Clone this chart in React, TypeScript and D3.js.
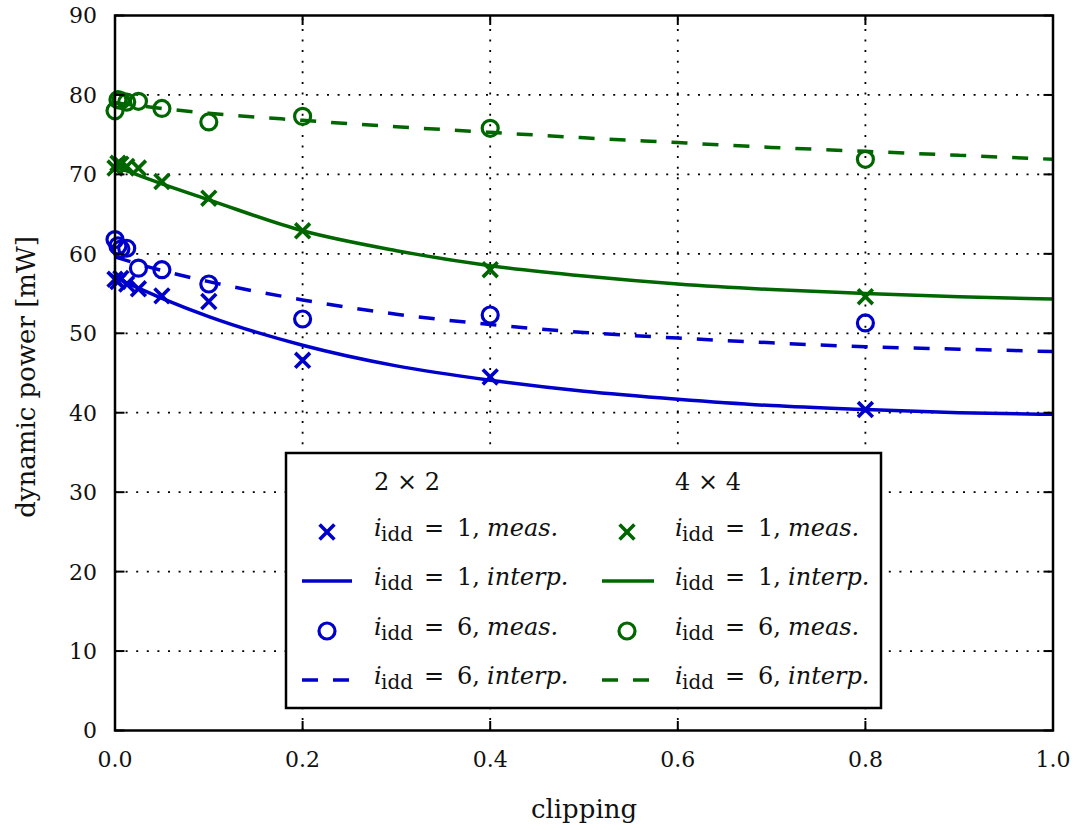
import React from "react";
import * as d3 from "d3";

// Clipping levels at which the power was measured
const clipping = [0, 0.003125, 0.00625, 0.0125, 0.025, 0.05, 0.1, 0.2, 0.4, 0.8];
// Measured dynamic power [mW]
const meas2x2idd1 = [56.8, 56.5, 56.9, 56.2, 55.6, 54.7, 54.0, 46.6, 44.5, 40.4];
const meas2x2idd6 = [61.8, 61.0, 60.6, 60.7, 58.2, 58.0, 56.2, 51.8, 52.3, 51.3];
const meas4x4idd1 = [70.8, 71.4, 71.3, 71.0, 70.8, 69.1, 67.0, 62.9, 58.0, 54.6];
const meas4x4idd6 = [78.0, 79.4, 79.3, 79.1, 79.2, 78.3, 76.6, 77.3, 75.8, 71.9];

// Interpolated curves
const interpClipping = [0, 0.05, 0.1, 0.2, 0.3, 0.4, 0.5, 0.6, 0.7, 0.8, 0.9, 1.0];
const interp2x2idd1 = [57.0, 54.4, 52.1, 48.5, 45.9, 44.1, 42.7, 41.7, 40.9, 40.4, 40.0, 39.8];
const interp2x2idd6 = [59.6, 57.9, 56.5, 54.2, 52.4, 51.1, 50.1, 49.4, 48.8, 48.3, 48.0, 47.7];
const interp4x4idd1 = [71.0, 68.8, 66.8, 62.9, 60.4, 58.5, 57.2, 56.2, 55.5, 55.0, 54.6, 54.3];
const interp4x4idd6 = [79.0, 78.3, 77.7, 76.8, 76.0, 75.3, 74.6, 74.0, 73.4, 72.9, 72.4, 71.9];

const xTicks = [0, 0.2, 0.4, 0.6, 0.8, 1.0];
const xTickLabels = ["0.0", "0.2", "0.4", "0.6", "0.8", "1.0"];
const yTicks = [0, 10, 20, 30, 40, 50, 60, 70, 80, 90];

const groupHeaders = ["2 × 2", "4 × 4"];

const BLUE = "#0000cc";
const GREEN = "#006600";
const FONT = "'DejaVu Serif', serif";

const W = 1074;
const H = 830;
const M = { left: 115, right: 1053, top: 15.5, bottom: 730.5 };

const x = d3.scaleLinear().domain([0, 1]).range([M.left, M.right]);
const y = d3.scaleLinear().domain([0, 90]).range([M.bottom, M.top]);

const line = d3
  .line<[number, number]>()
  .x((d) => x(d[0]))
  .y((d) => y(d[1]))
  .curve(d3.curveMonotoneX);

const zip = (xs: number[], ys: number[]) => xs.map((v, i) => [v, ys[i]] as [number, number]);

type Series = {
  color: string;
  marker: "x" | "o";
  meas: number[];
  interp: number[];
  dashed: boolean;
  idd: string;
};

const series2x2: Series[] = [
  { color: BLUE, marker: "x", meas: meas2x2idd1, interp: interp2x2idd1, dashed: false, idd: "1" },
  { color: BLUE, marker: "o", meas: meas2x2idd6, interp: interp2x2idd6, dashed: true, idd: "6" },
];
const series4x4: Series[] = [
  { color: GREEN, marker: "x", meas: meas4x4idd1, interp: interp4x4idd1, dashed: false, idd: "1" },
  { color: GREEN, marker: "o", meas: meas4x4idd6, interp: interp4x4idd6, dashed: true, idd: "6" },
];
const allSeries = [...series2x2, ...series4x4];

const DASH = "16 15";
const LW = 3.5;
const CROSS = 7.4;
const RADIUS = 8;

function Marker({ kind, cx, cy, color }: { kind: "x" | "o"; cx: number; cy: number; color: string }) {
  if (kind === "o") {
    return <circle cx={cx} cy={cy} r={RADIUS} fill="none" stroke={color} strokeWidth={3.2} />;
  }
  const s = CROSS;
  return (
    <path
      d={`M${cx - s},${cy - s}L${cx + s},${cy + s}M${cx - s},${cy + s}L${cx + s},${cy - s}`}
      stroke={color}
      strokeWidth={3.6}
      fill="none"
    />
  );
}

function LegendLabel({ tx, ty, idd, kind }: { tx: number; ty: number; idd: string; kind: string }) {
  return (
    <text y={ty} fontFamily={FONT} fontSize={24} fill="#111">
      <tspan x={tx} fontStyle="italic">i</tspan>
      <tspan x={tx + 7} dy={5} fontSize={20}>idd</tspan>
      <tspan x={tx + 50} dy={-5}>=</tspan>
      <tspan x={tx + 83}>{idd},</tspan>
      <tspan x={tx + 113} fontStyle="italic">{kind}</tspan>
    </text>
  );
}

export default function App() {
  const legend = { x0: 286, y0: 453, x1: 881, y1: 708 };
  const cols = [
    { group: series2x2, header: groupHeaders[0], mx: 327, lx0: 302, lx1: 352, tx: 374 },
    { group: series4x4, header: groupHeaders[1], mx: 627, lx0: 602, lx1: 654, tx: 675 },
  ];
  const rowY = [532, 581, 631, 680];

  return (
    <svg
      width={W}
      height={H}
      style={{ position: "absolute", left: 0, top: 0, background: "#fff" }}
      xmlns="http://www.w3.org/2000/svg"
    >
      <defs>
        <clipPath id="plot-area">
          <rect x={M.left} y={M.top} width={M.right - M.left} height={M.bottom - M.top} />
        </clipPath>
      </defs>

      {/* grid */}
      <g stroke="#000" strokeWidth={1.8} strokeDasharray="2 8.6">
        {xTicks.slice(1, -1).map((t) => (
          <line key={`gx${t}`} x1={x(t)} x2={x(t)} y1={M.bottom} y2={M.top} />
        ))}
        {yTicks.slice(1, -1).map((t) => (
          <line key={`gy${t}`} x1={M.left} x2={M.right} y1={y(t)} y2={y(t)} />
        ))}
      </g>

      {/* interpolated curves */}
      <g clipPath="url(#plot-area)" fill="none">
        {allSeries.map((s, i) => (
          <path
            key={`l${i}`}
            d={line(zip(interpClipping, s.interp)) || ""}
            stroke={s.color}
            strokeWidth={LW}
            strokeDasharray={s.dashed ? DASH : undefined}
          />
        ))}
      </g>

      {/* measurements */}
      <g>
        {allSeries.map((s, i) =>
          zip(clipping, s.meas).map((d, j) => (
            <Marker key={`m${i}-${j}`} kind={s.marker} cx={x(d[0])} cy={y(d[1])} color={s.color} />
          ))
        )}
      </g>

      {/* frame and inward ticks */}
      <g stroke="#000" strokeWidth={2}>
        {yTicks.map((t) => (
          <g key={`ty${t}`}>
            <line x1={M.left} x2={M.left + 9.5} y1={y(t)} y2={y(t)} />
            <line x1={M.right} x2={M.right - 9.5} y1={y(t)} y2={y(t)} />
          </g>
        ))}
        {xTicks.map((t) => (
          <g key={`tx${t}`}>
            <line x1={x(t)} x2={x(t)} y1={M.bottom} y2={M.bottom - 9.5} />
            <line x1={x(t)} x2={x(t)} y1={M.top} y2={M.top + 9.5} />
          </g>
        ))}
      </g>
      <rect
        x={M.left}
        y={M.top}
        width={M.right - M.left}
        height={M.bottom - M.top}
        fill="none"
        stroke="#000"
        strokeWidth={2.5}
      />

      {/* tick labels */}
      <g fontFamily={FONT} fontSize={22} fill="#111">
        {yTicks.map((t) => (
          <text key={`ly${t}`} x={97} y={y(t)} dy="0.36em" textAnchor="end">
            {t}
          </text>
        ))}
        {xTicks.map((t, i) => (
          <text key={`lx${t}`} x={x(t)} y={767} textAnchor="middle">
            {xTickLabels[i]}
          </text>
        ))}
      </g>

      {/* axis labels */}
      <text x={584} y={818} textAnchor="middle" fontFamily={FONT} fontSize={26} fill="#111">
        clipping
      </text>
      <text
        transform="translate(35,377) rotate(-90)"
        textAnchor="middle"
        fontFamily={FONT}
        fontSize={26}
        fill="#111"
      >
        dynamic power [mW]
      </text>

      {/* legend */}
      <rect
        x={legend.x0}
        y={legend.y0}
        width={legend.x1 - legend.x0}
        height={legend.y1 - legend.y0}
        fill="#fff"
        stroke="#000"
        strokeWidth={2.5}
      />
      {cols.map((c, ci) => (
        <g key={`col${ci}`}>
          <text x={c.tx} y={490} fontFamily={FONT} fontSize={24} fill="#111">
            {c.header}
          </text>
          {c.group.map((s, si) => {
            const ym = rowY[si * 2];
            const yl = rowY[si * 2 + 1];
            return (
              <g key={`leg${ci}-${si}`}>
                <Marker kind={s.marker} cx={c.mx} cy={ym} color={s.color} />
                <LegendLabel tx={c.tx} ty={ym + 4} idd={s.idd} kind="meas." />
                <line
                  x1={c.lx0}
                  x2={c.lx1}
                  y1={yl}
                  y2={yl}
                  stroke={s.color}
                  strokeWidth={LW}
                  strokeDasharray={s.dashed ? DASH : undefined}
                />
                <LegendLabel tx={c.tx} ty={yl + 4} idd={s.idd} kind="interp." />
              </g>
            );
          })}
        </g>
      ))}
    </svg>
  );
}
